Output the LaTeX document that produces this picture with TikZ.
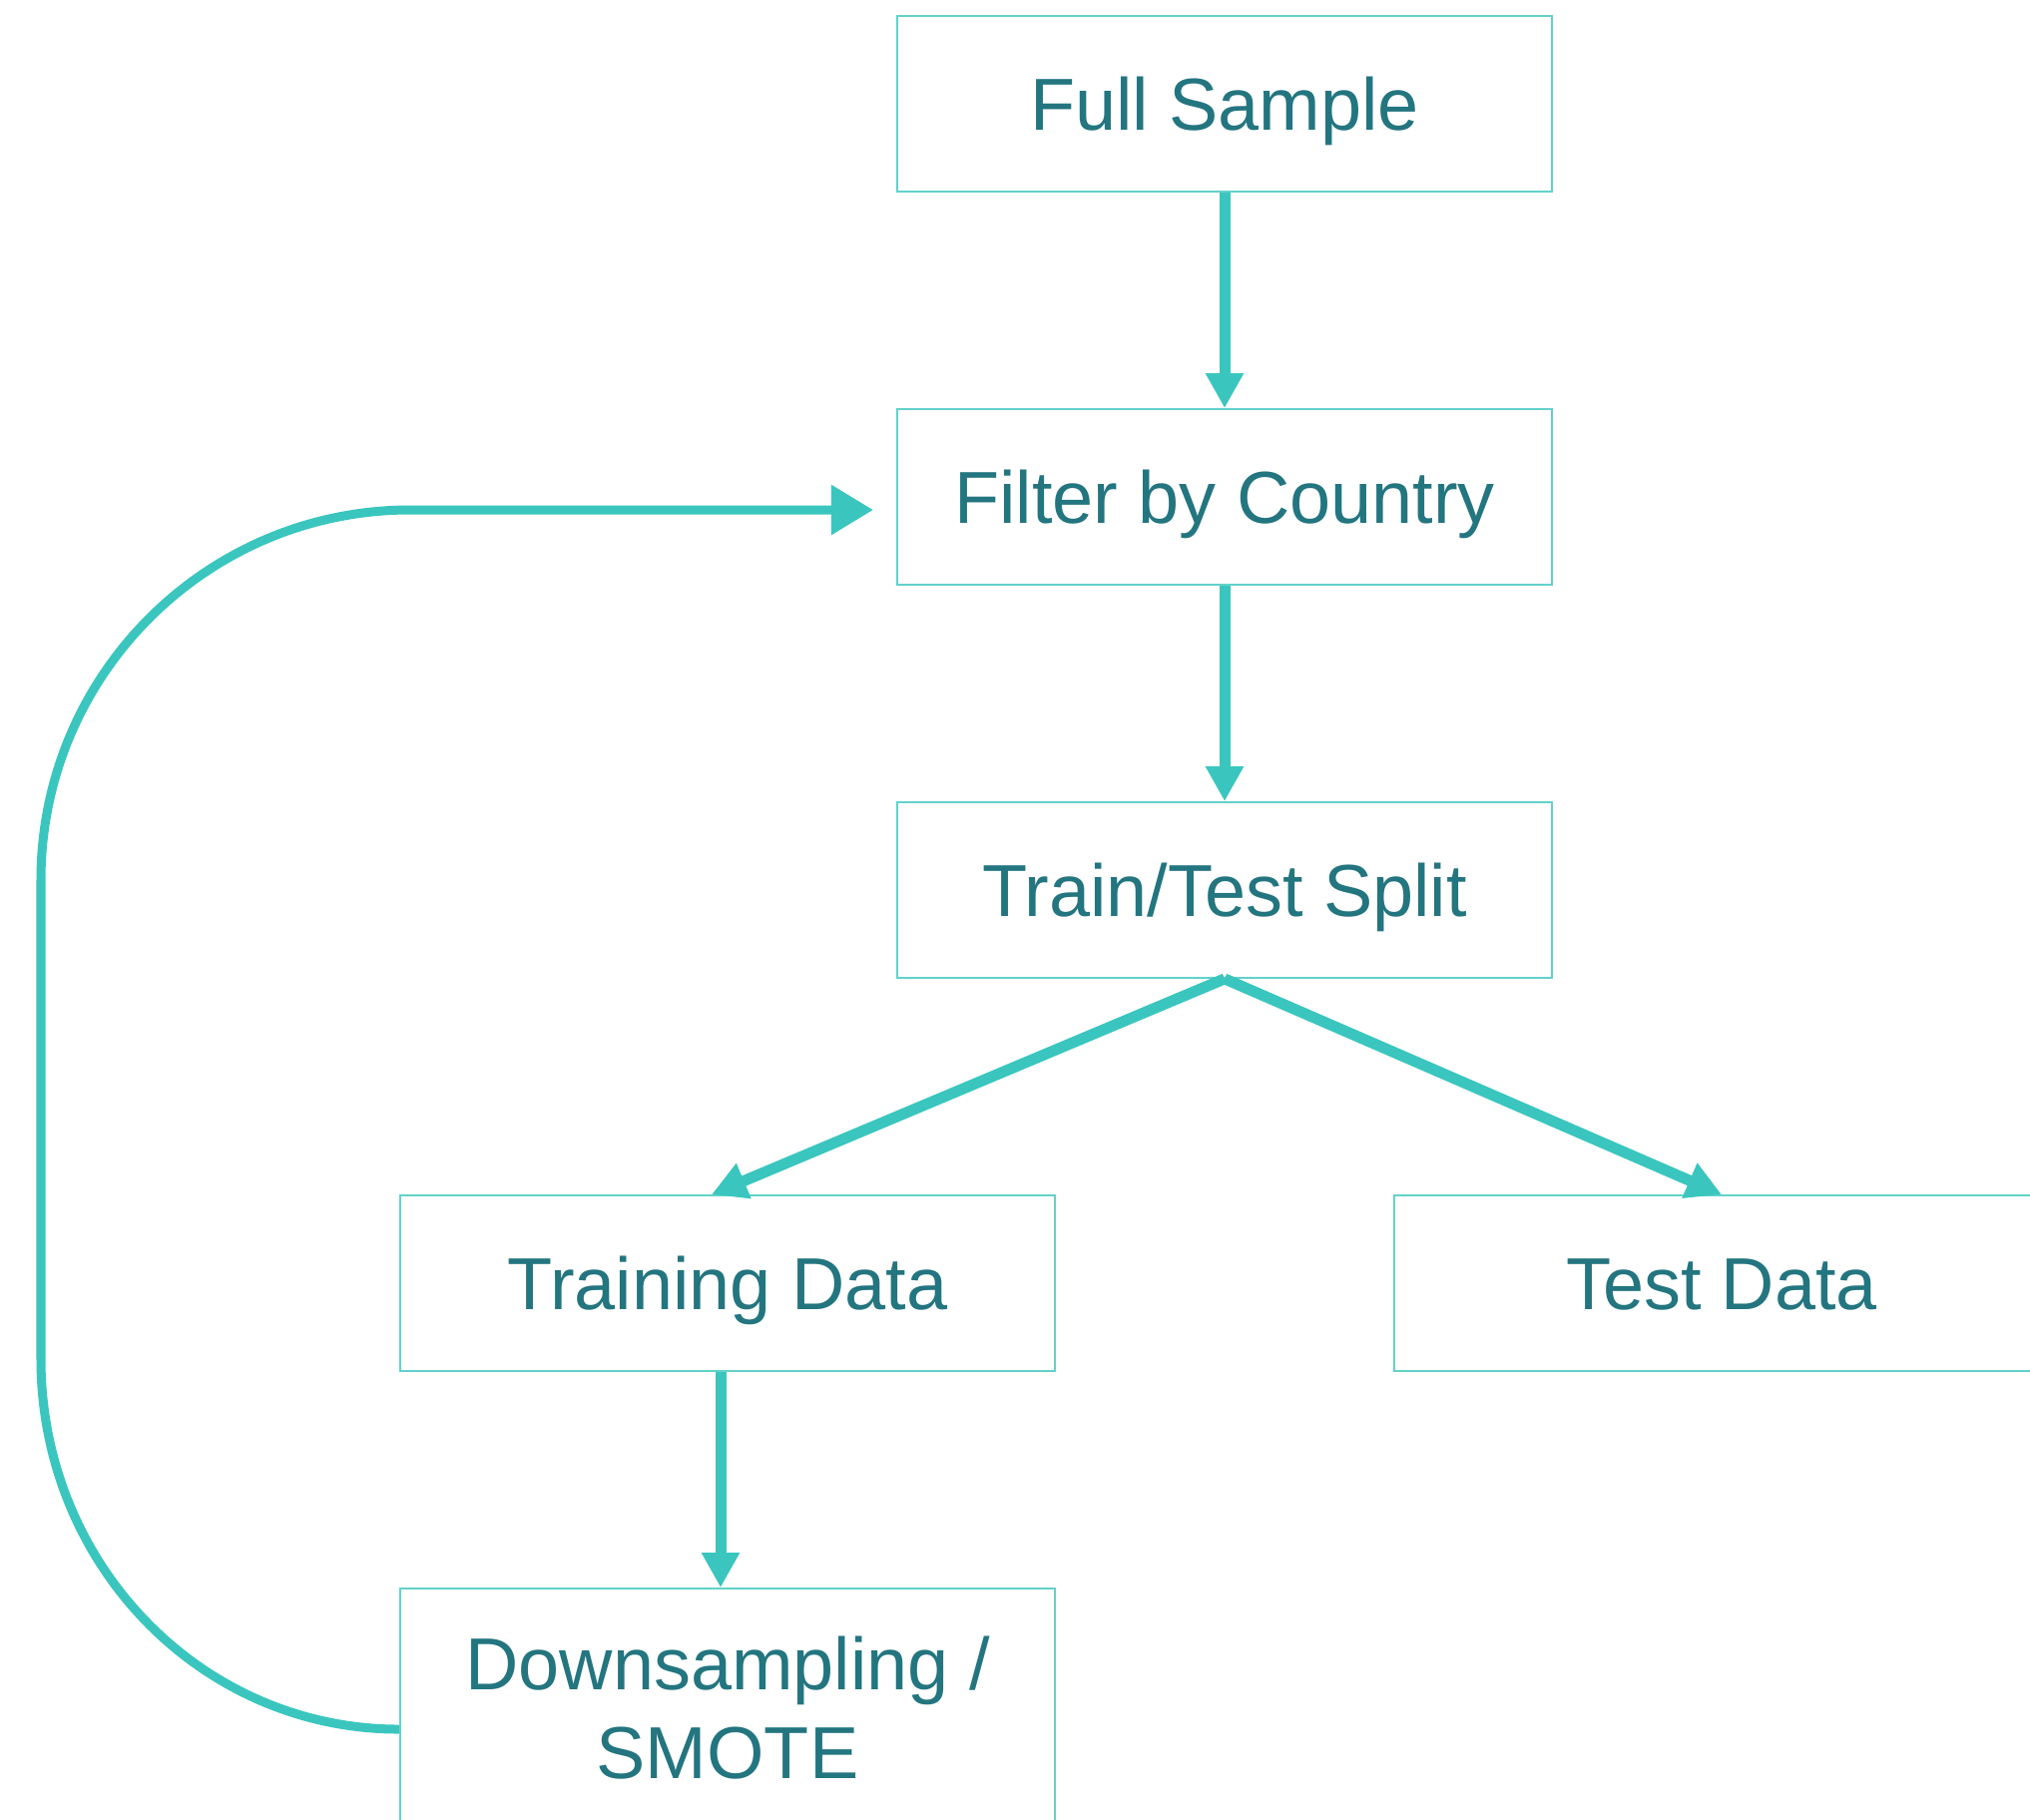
\documentclass[tikz,border=0pt]{standalone}
\usepackage{fontspec}
\setmainfont{Liberation Sans}
\usetikzlibrary{arrows.meta,calc}
\definecolor{flowteal}{HTML}{3AC6BE}
\definecolor{boxteal}{HTML}{62D2CA}
\definecolor{textteal}{HTML}{23757F}

\begin{document}
\begin{tikzpicture}[x=0.01cm,y=-0.01cm,
    box/.style={draw=boxteal,line width=0.5pt,minimum width=6.56cm,minimum height=1.76cm,inner sep=0pt,
      text=textteal,font=\fontsize{21}{25.3}\selectfont},
    oneline/.style={box,text height=15pt,text depth=0pt},
    flow/.style={draw=flowteal,line width=0.11cm,-{Triangle[length=0.35cm,width=0.36cm]}},
    back/.style={draw=flowteal,line width=0.09cm,-{Triangle[length=0.42cm,width=0.48cm]}}]
    \useasboundingbox(0,0)rectangle(2034,1823);
    \clip(0,0)rectangle(2034,1823);
    % boxes
    \node[oneline](full)at(1227,104){Full Sample};
    \node[oneline](filter)at(1227,498){Filter by Country};
    \node[oneline](split)at(1227,892){Train/Test Split};
    \node[oneline](train)at(729,1286){Training Data};
    \node[oneline](test)at(1725,1286){Test Data};
    \node[box,align=center,minimum height=2.4cm](down)at(729,1712){Downsampling /\\SMOTE};
    % arrows
    \draw[flow](full)--(filter);
    \draw[flow](filter)--(split);
    \draw[flow](split.south)--($(train.north)+(-16,0)$);
    \draw[flow](split.south)--($(test.north)+(0,0)$);
    \draw[flow]($(train.south)+(-7,0)$)--($(down.north)+(-7,0)$);
    % loop back
    \coordinate(loopend)at($(filter.west)+(-23,13)$);
    \draw[back]($(down.west)+(0,21)$) .. controls +(-199,0) and (41,1567) .. (41,1362)
      --(41,882) .. controls (41,677) and (207,511) .. (411,511)--(loopend);
\end{tikzpicture}
\end{document}
